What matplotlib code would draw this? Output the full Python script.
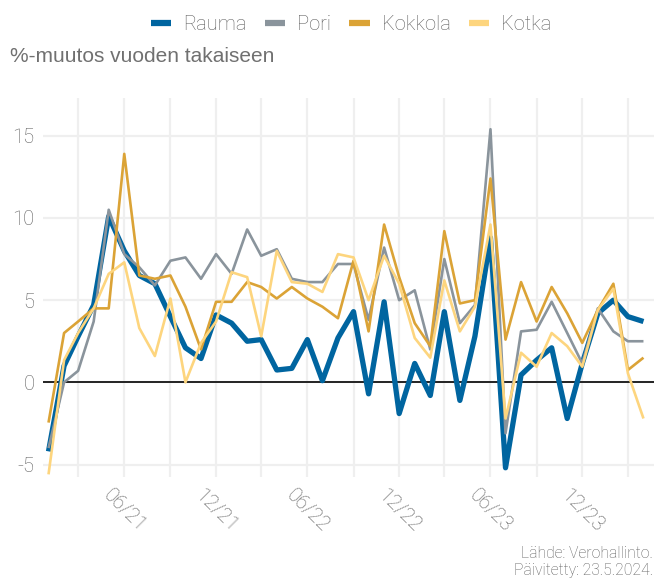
import numpy as np
import pandas as pd
import matplotlib
matplotlib.use("Agg")
import matplotlib.pyplot as plt
import matplotlib.dates as mdates

# kuukausittainen %-muutos vuoden takaiseen, 1/2021 - 4/2024
kuukaudet = pd.date_range("2021-01-01", periods=40, freq="MS")

rauma = [-4.2, 1.0, 2.8, 4.7, 10.1, 8.0, 6.5, 6.0, 4.0, 2.1,
         1.45, 4.1, 3.6, 2.5, 2.6, 0.75, 0.85, 2.6, 0.1, 2.7,
         4.3, -0.7, 4.9, -1.9, 1.15, -0.8, 4.3, -1.1, 2.8, 8.8,
         -5.2, 0.45, 1.35, 2.1, -2.2, 1.15, 4.2, 5.0, 4.0, 3.7]
pori = [-4.0, 0.0, 0.7, 3.7, 10.5, 7.8, 7.0, 5.9, 7.4, 7.6,
        6.3, 7.8, 6.6, 9.3, 7.7, 8.1, 6.3, 6.1, 6.1, 7.2,
        7.2, 3.8, 8.2, 5.0, 5.6, 2.0, 7.5, 3.6, 4.7, 15.4,
        -3.1, 3.1, 3.2, 4.9, 3.0, 1.15, 4.5, 3.1, 2.5, 2.5]
kokkola = [-2.45, 3.0, 3.7, 4.5, 4.5, 13.9, 6.5, 6.3, 6.5, 4.6,
           2.0, 4.9, 4.9, 6.1, 5.8, 5.1, 5.8, 5.1, 4.6, 3.9,
           7.4, 3.1, 9.6, 6.4, 3.6, 2.2, 9.2, 4.8, 5.0, 12.4,
           2.6, 6.1, 3.7, 5.8, 4.2, 2.4, 4.4, 6.0, 0.75, 1.5]
kotka = [-5.6, 1.35, 3.0, 4.5, 6.6, 7.3, 3.3, 1.6, 5.1, 0.0,
         2.4, 3.7, 6.7, 6.4, 2.8, 8.0, 6.1, 6.0, 5.5, 7.8,
         7.6, 5.0, 7.7, 6.0, 2.7, 1.5, 6.2, 3.1, 4.6, 9.6,
         -2.2, 1.8, 0.95, 3.0, 2.2, 0.95, 4.4, 5.7, 0.55, -2.2]

sarjat = ["Rauma", "Pori", "Kokkola", "Kotka"]
arvot = [rauma, pori, kokkola, kotka]
varit = ["#0065a0", "#8a949c", "#dba336", "#fdd57e"]
paksuus = [3.8, 1.9, 1.9, 1.9]

fontti = ["Roboto", "DejaVu Sans"]
harmaa = "#5f5f5f"

fig = plt.figure(figsize=(6.54, 5.79), dpi=100)
ax = fig.add_axes([43 / 654, 102 / 579, 611 / 654, 379 / 579])

for nimi, y, c, lw in zip(sarjat, arvot, varit, paksuus):
    ax.plot(kuukaudet, y, color=c, lw=lw, label=nimi,
            solid_joinstyle="round", solid_capstyle="butt", zorder=3)

ax.axhline(0, color="black", lw=1.2, zorder=2)

# akselit
alku = mdates.date2num(kuukaudet[0]) - 11
loppu = mdates.date2num(kuukaudet[-1]) + 21
ax.set_xlim(alku, loppu)
ax.set_ylim(-5.76, 17.3)
ax.set_yticks([-5, 0, 5, 10, 15])
ax.set_yticklabels(["-5", "0", "5", "10", "15"])

ax.xaxis.set_major_locator(mdates.MonthLocator(bymonth=[3, 6, 9, 12]))
def kk_muoto(x, pos):
    d = mdates.num2date(x)
    if d.month in (6, 12):
        return d.strftime("%m/%y")
    return ""
ax.xaxis.set_major_formatter(plt.FuncFormatter(kk_muoto))

ax.grid(True, color="#efefef", lw=1.6, zorder=0)
ax.set_axisbelow(True)
for s in ax.spines.values():
    s.set_visible(False)
ax.tick_params(length=0, colors=harmaa, labelsize=14.5)
ax.tick_params(axis="y", pad=6)
ax.tick_params(axis="x", pad=24)
for t in ax.get_yticklabels():
    t.set_fontfamily(fontti)
    t.set_fontweight("light")
for t in ax.get_xticklabels():
    t.set_fontfamily(fontti)
    t.set_fontweight("light")
    t.set_rotation(-45)
    t.set_rotation_mode("anchor")
    t.set_ha("center")
    t.set_va("center")

# selite ylös keskelle
leg = fig.legend(loc="upper center", bbox_to_anchor=(0.537, 1.005), ncol=4,
                 frameon=False, handlelength=1.0, handletextpad=0.6,
                 columnspacing=0.9,
                 prop={"family": fontti, "weight": "light", "size": 14.5})
for h in leg.get_lines():
    h.set_linewidth(4.5)
for t in leg.get_texts():
    t.set_color(harmaa)

fig.text(10 / 654, 1 - 56 / 579, "%-muutos vuoden takaiseen",
         family=["Liberation Sans", "DejaVu Sans"], size=15, color="#707070",
         ha="left", va="center")

fig.text(0.999, 1 - 553 / 579, "Lähde: Verohallinto.", family=fontti,
         weight="light", size=11.3, color=harmaa, ha="right", va="center")
fig.text(0.999, 1 - 570 / 579, "Päivitetty: 23.5.2024.", family=fontti,
         weight="light", size=11.3, color=harmaa, ha="right", va="center")

fig.savefig("out.png", dpi=100)
